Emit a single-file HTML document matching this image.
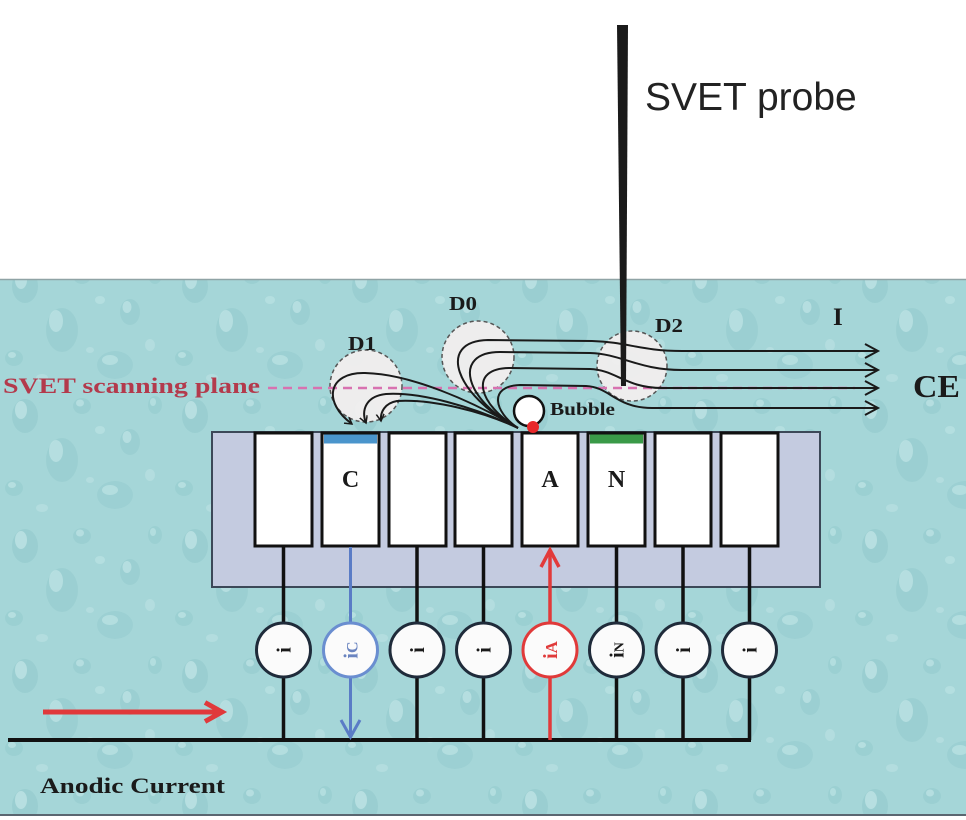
<!DOCTYPE html>
<html>
<head>
<meta charset="utf-8">
<style>
  html, body { margin: 0; padding: 0; background: #ffffff; }
  svg { display: block; }
  .lbl { font-family: "Liberation Serif", serif; font-weight: bold; fill: #1a1a1a; }
</style>
</head>
<body>
<svg width="966" height="820" viewBox="0 0 966 820" xmlns="http://www.w3.org/2000/svg">
  <defs>
    <pattern id="water" width="170" height="130" patternUnits="userSpaceOnUse">
      <rect width="170" height="130" fill="#a5d6d8"/>
      <ellipse cx="25" cy="26" rx="13" ry="17" fill="#8cc5c9" opacity="0.45"/>
      <ellipse cx="21" cy="20" rx="6" ry="9" fill="#c9ebeb" opacity="0.6"/>
      <ellipse cx="82" cy="16" rx="9" ry="8" fill="#8cc5c9" opacity="0.4"/>
      <ellipse cx="80" cy="13" rx="4" ry="3.5" fill="#c9ebeb" opacity="0.55"/>
      <ellipse cx="62" cy="70" rx="16" ry="22" fill="#8cc5c9" opacity="0.4"/>
      <ellipse cx="56" cy="61" rx="7" ry="11" fill="#c9ebeb" opacity="0.55"/>
      <ellipse cx="130" cy="52" rx="10" ry="13" fill="#8cc5c9" opacity="0.4"/>
      <ellipse cx="127" cy="47" rx="4.5" ry="6" fill="#c9ebeb" opacity="0.55"/>
      <ellipse cx="14" cy="98" rx="9" ry="8" fill="#8cc5c9" opacity="0.38"/>
      <ellipse cx="12" cy="95" rx="4" ry="3" fill="#c9ebeb" opacity="0.55"/>
      <ellipse cx="115" cy="105" rx="18" ry="14" fill="#8cc5c9" opacity="0.35"/>
      <ellipse cx="110" cy="100" rx="8" ry="5" fill="#c9ebeb" opacity="0.5"/>
      <ellipse cx="155" cy="15" rx="7" ry="9" fill="#8cc5c9" opacity="0.38"/>
      <ellipse cx="153" cy="12" rx="3" ry="4" fill="#c9ebeb" opacity="0.5"/>
      <ellipse cx="100" cy="40" rx="5" ry="4" fill="#c3e8e8" opacity="0.5"/>
      <ellipse cx="42" cy="118" rx="6" ry="4" fill="#c3e8e8" opacity="0.45"/>
      <ellipse cx="150" cy="85" rx="5" ry="6" fill="#c3e8e8" opacity="0.45"/>
      <ellipse cx="90" cy="90" rx="4" ry="3" fill="#c3e8e8" opacity="0.45"/>
    </pattern>
    <marker id="ah" markerWidth="12" markerHeight="12" refX="7" refY="4" orient="auto" markerUnits="userSpaceOnUse">
      <path d="M0,0 L7,4 L0,8" fill="none" stroke="#1a1a1a" stroke-width="1.5"/>
    </marker>
  </defs>

  <!-- water -->
  <rect x="0" y="279" width="966" height="536" fill="url(#water)"/>
  <line x1="0" y1="279.5" x2="966" y2="279.5" stroke="#8fa3a5" stroke-width="1.5"/>
  <line x1="0" y1="815" x2="966" y2="815" stroke="#5a6670" stroke-width="2"/>

  <!-- box -->
  <rect x="212" y="432" width="608" height="155" fill="#c4cbe0" stroke="#3c4858" stroke-width="2"/>

  <!-- electrodes -->
  <g fill="#ffffff" stroke="#111" stroke-width="3">
    <rect x="255" y="433" width="57" height="113"/>
    <rect x="322" y="433" width="57" height="113"/>
    <rect x="389" y="433" width="57" height="113"/>
    <rect x="455" y="433" width="57" height="113"/>
    <rect x="522" y="433" width="56" height="113"/>
    <rect x="588" y="433" width="57" height="113"/>
    <rect x="655" y="433" width="56" height="113"/>
    <rect x="721" y="433" width="57" height="113"/>
  </g>
  <rect x="324" y="434.5" width="53" height="9" fill="#4a95cc"/>
  <rect x="590" y="434.5" width="53" height="9" fill="#3a9a48"/>

  <text class="lbl" x="350.5" y="487" font-size="24" text-anchor="middle">C</text>
  <text class="lbl" x="550" y="487" font-size="24" text-anchor="middle">A</text>
  <text class="lbl" x="616.5" y="487" font-size="24" text-anchor="middle">N</text>

  <!-- vertical wires -->
  <g stroke="#111" stroke-width="3.5">
    <line x1="283.5" y1="546" x2="283.5" y2="740"/>
    <line x1="417" y1="546" x2="417" y2="740"/>
    <line x1="483.5" y1="546" x2="483.5" y2="740"/>
    <line x1="616.5" y1="546" x2="616.5" y2="740"/>
    <line x1="683" y1="546" x2="683" y2="740"/>
    <line x1="749.5" y1="546" x2="749.5" y2="740"/>
  </g>
  <!-- bus line -->
  <line x1="8" y1="740" x2="751" y2="740" stroke="#111" stroke-width="4"/>

  <!-- blue (cathodic) -->
  <line x1="350.5" y1="547" x2="350.5" y2="736" stroke="#5a7cc6" stroke-width="3"/>
  <polyline points="341,720 350.5,737 360,720" fill="none" stroke="#5a7cc6" stroke-width="3"/>
  <!-- red (anodic) -->
  <line x1="550" y1="740" x2="550" y2="551" stroke="#e23a3a" stroke-width="3.5"/>
  <polyline points="541,567 550,550 559,567" fill="none" stroke="#e23a3a" stroke-width="3.5"/>

  <!-- current circles -->
  <g stroke-width="3" fill="#fbfbfb">
    <circle cx="283.5" cy="650" r="27" stroke="#1f2b3a"/>
    <circle cx="350.5" cy="650" r="27" stroke="#6a8ed0"/>
    <circle cx="417" cy="650" r="27" stroke="#1f2b3a"/>
    <circle cx="483.5" cy="650" r="27" stroke="#1f2b3a"/>
    <circle cx="550" cy="650" r="27" stroke="#e03a3a"/>
    <circle cx="616.5" cy="650" r="27" stroke="#1f2b3a"/>
    <circle cx="683" cy="650" r="27" stroke="#1f2b3a"/>
    <circle cx="749.5" cy="650" r="27" stroke="#1f2b3a"/>
  </g>
  <g class="lbl" font-size="20" text-anchor="middle">
    <text x="283.5" y="657" transform="rotate(-90 283.5 650)">i</text>
    <text x="350.5" y="657" transform="rotate(-90 350.5 650)" fill="#6a84c0">i<tspan font-size="16">C</tspan></text>
    <text x="417" y="657" transform="rotate(-90 417 650)">i</text>
    <text x="483.5" y="657" transform="rotate(-90 483.5 650)">i</text>
    <text x="550" y="657" transform="rotate(-90 550 650)" fill="#e03a3a">i<tspan font-size="17">A</tspan></text>
    <text x="616.5" y="657" transform="rotate(-90 616.5 650)">i<tspan font-size="14">N</tspan></text>
    <text x="683" y="657" transform="rotate(-90 683 650)">i</text>
    <text x="749.5" y="657" transform="rotate(-90 749.5 650)">i</text>
  </g>

  <!-- red left arrow -->
  <line x1="43" y1="712" x2="219" y2="712" stroke="#e0393b" stroke-width="5"/>
  <polyline points="205,702.5 222,712 205,721.5" fill="none" stroke="#e0393b" stroke-width="5"/>

  <!-- D regions -->
  <g fill="#f1eeee" fill-opacity="0.95" stroke="#555" stroke-width="1.5" stroke-dasharray="4,3">
    <circle cx="366" cy="386" r="36"/>
    <circle cx="478" cy="357" r="36"/>
    <circle cx="632" cy="366" r="35"/>
  </g>

  <!-- scanning plane -->
  <line x1="268" y1="388" x2="855" y2="388" stroke="#d872b0" stroke-width="2.5" stroke-dasharray="9,6"/>

  <!-- field lines -->
  <g fill="none" stroke="#1a1a1a" stroke-width="2">
    <path d="M518,428 C 455,396 436,341 488,340 L 592,341 C 628,342 640,351 682,351 L 877,351"/>
    <path d="M518,428 C 464,400 452,352 500,352 L 590,353 C 622,354 638,370 682,370 L 877,370"/>
    <path d="M518,428 C 478,405 468,368 510,368 L 590,369 C 616,370 626,388 662,388 L 877,388"/>
    <path d="M518,428 C 494,412 488,386 520,385 L 586,386 C 610,387 616,408 652,408 L 877,408"/>
    <path d="M518,428 C 470,400 410,374 365,373 C 328,372 322,402 352,424" marker-end="url(#ah)"/>
    <path d="M518,428 C 472,406 420,392 386,394 C 366,396 361,410 366,423" marker-end="url(#ah)"/>
    <path d="M518,428 C 482,411 432,399 397,401 C 385,403 380,412 381,421" marker-end="url(#ah)"/>
  </g>
  <g fill="none" stroke="#1a1a1a" stroke-width="2">
    <polyline points="865,344 878,351 865,358"/>
    <polyline points="865,363 878,370 865,377"/>
    <polyline points="865,381 878,388 865,395"/>
    <polyline points="865,401 878,408 865,415"/>
  </g>

  <!-- probe -->
  <polygon points="617,25 628,25 626,386 621,386" fill="#1a1a1a"/>

  <!-- bubble -->
  <circle cx="529" cy="411" r="15" fill="#ffffff" stroke="#111" stroke-width="2.5"/>
  <circle cx="533" cy="427" r="6" fill="#e8282a"/>

  <!-- labels -->
  <text x="645" y="110" font-family="Liberation Sans, sans-serif" font-size="39" fill="#222">SVET probe</text>
  <text class="lbl" x="3" y="393" font-size="22" style="fill:#b33a4c" textLength="257" lengthAdjust="spacingAndGlyphs">SVET scanning plane</text>
  <text class="lbl" x="348" y="350" font-size="20" textLength="28" lengthAdjust="spacingAndGlyphs">D1</text>
  <text class="lbl" x="449" y="310" font-size="20" textLength="28" lengthAdjust="spacingAndGlyphs">D0</text>
  <text class="lbl" x="655" y="332" font-size="20" textLength="28" lengthAdjust="spacingAndGlyphs">D2</text>
  <text class="lbl" x="833" y="325" font-size="25">I</text>
  <text class="lbl" x="913" y="397" font-size="32" textLength="47" lengthAdjust="spacingAndGlyphs">CE</text>
  <text class="lbl" x="550" y="415" font-size="18" textLength="65" lengthAdjust="spacingAndGlyphs">Bubble</text>
  <text class="lbl" x="40" y="793" font-size="22" textLength="185" lengthAdjust="spacingAndGlyphs">Anodic Current</text>
</svg>
</body>
</html>
